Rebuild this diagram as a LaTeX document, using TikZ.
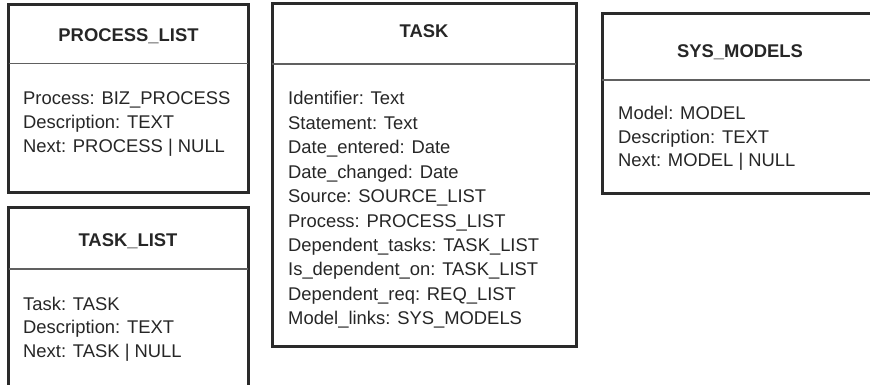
\documentclass[tikz,border=0pt]{standalone}
\usepackage{fontspec}
\setmainfont{Liberation Sans}
\definecolor{edge}{HTML}{2A2A2A}
\definecolor{rule}{HTML}{606060}
\definecolor{txt}{HTML}{262626}
\begin{document}
\begin{tikzpicture}[x=1pt,y=-1pt,
  box/.style={draw=edge, line width=3pt, rectangle, outer sep=0pt, inner sep=0pt, anchor=north west},
  divider/.style={draw=rule, line width=1.4pt},
  field/.style={anchor=base west, inner sep=0pt, text=txt, font=\fontsize{18.4}{22}\selectfont},
  heading/.style={anchor=base, inner sep=0pt, text=txt, font=\fontsize{18.4}{22}\selectfont\bfseries}]
\useasboundingbox (0,0) rectangle (870,385);
\clip (0,0) rectangle (870,385);
% PROCESS_LIST
\node[box, minimum width=239.6pt, minimum height=187.7pt] (pl) at (8.7,5) {};
\draw[divider] (pl.west |- 0,63.3) -- (pl.east |- 0,63.3);
\node[heading] (plt) at (128.5,41.7) {PROCESS\_LIST};
\node[field] (pl1) at (23,105) {Process: BIZ\_PROCESS};
\node[field] (pl2) at (23,129) {Description: TEXT};
\node[field] (pl3) at (23,153) {Next: PROCESS | NULL};
% TASK_LIST
\node[box, minimum width=239.6pt, minimum height=200pt] (tl) at (8.7,207) {};
\draw[divider] (tl.west |- 0,269) -- (tl.east |- 0,269);
\node[heading] (tlt) at (128,246) {TASK\_LIST};
\node[field] (tl1) at (23,310) {Task: TASK};
\node[field] (tl2) at (23,333.5) {Description: TEXT};
\node[field] (tl3) at (23,357) {Next: TASK | NULL};
% TASK
\node[box, minimum width=303.7pt, minimum height=342pt] (tk) at (272.3,4) {};
\draw[divider] (tk.west |- 0,64) -- (tk.east |- 0,64);
\node[heading] (tkt) at (424,37.7) {TASK};
\node[field] (tk1) at (288,105) {Identifier: Text};
\node[field] (tk2) at (288,129.4) {Statement: Text};
\node[field] (tk3) at (288,153.8) {Date\_entered: Date};
\node[field] (tk4) at (288,178.2) {Date\_changed: Date};
\node[field] (tk5) at (288,202.6) {Source: SOURCE\_LIST};
\node[field] (tk6) at (288,227) {Process: PROCESS\_LIST};
\node[field] (tk7) at (288,251.4) {Dependent\_tasks: TASK\_LIST};
\node[field] (tk8) at (288,275.8) {Is\_dependent\_on: TASK\_LIST};
\node[field] (tk9) at (288,300.2) {Dependent\_req: REQ\_LIST};
\node[field] (tk10) at (288,324.6) {Model\_links: SYS\_MODELS};
% SYS_MODELS
\node[box, minimum width=276pt, minimum height=179pt] (sm) at (602,14) {};
\draw[divider] (sm.west |- 0,80) -- (sm.east |- 0,80);
\node[heading] (smt) at (740,57.7) {SYS\_MODELS};
\node[field] (sm1) at (618,120) {Model: MODEL};
\node[field] (sm2) at (618,144) {Description: TEXT};
\node[field] (sm3) at (618,167) {Next: MODEL | NULL};
\end{tikzpicture}
\end{document}
